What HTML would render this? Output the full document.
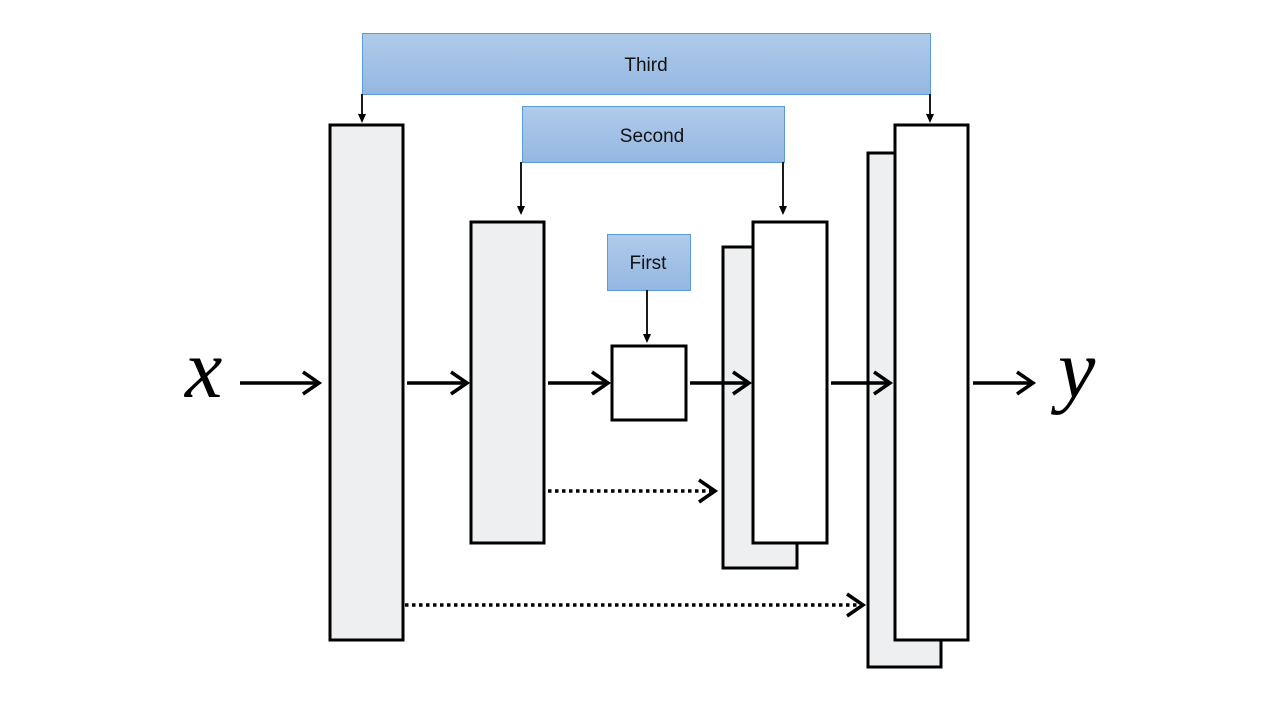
<!DOCTYPE html>
<html><head><meta charset="utf-8"><style>html,body{margin:0;padding:0;background:#fff;width:1280px;height:720px;overflow:hidden}</style></head>
<body>
<svg width="1280" height="720" viewBox="0 0 1280 720" xmlns="http://www.w3.org/2000/svg">
<defs>
<linearGradient id="g" x1="0" y1="0" x2="0" y2="1"><stop offset="0" stop-color="#b0cbea"/><stop offset="1" stop-color="#94b7e2"/></linearGradient>
<marker id="ah" markerWidth="8" markerHeight="8" refX="4" refY="7" orient="auto" markerUnits="userSpaceOnUse"><path d="M0,0 L4,8 L8,0 Z" fill="#000" transform="rotate(-90 4 4) translate(0,0)"/></marker>
</defs>
<g stroke="#000" stroke-width="3">
<rect x="330" y="125" width="73" height="515" fill="#eeeff0"/>
<rect x="471" y="222" width="73" height="321" fill="#eeeff0"/>
<rect x="612" y="346" width="74" height="74" fill="#fff"/>
<rect x="723" y="247" width="74" height="321" fill="#eeeff0"/>
<rect x="753" y="222" width="74" height="321" fill="#fff"/>
<rect x="868" y="153" width="73" height="514" fill="#eeeff0"/>
<rect x="895" y="125" width="73" height="515" fill="#fff"/>
</g>
<g stroke="#5b9bd5" stroke-width="1" fill="url(#g)">
<rect x="362.5" y="33.5" width="568" height="61"/>
<rect x="522.5" y="106.5" width="262" height="56"/>
<rect x="607.5" y="234.5" width="83" height="56"/>
</g>
<g font-family="'Liberation Sans',sans-serif" font-size="19" text-anchor="middle" fill="#111">
<text x="646" y="71">Third</text>
<text x="652" y="142">Second</text>
<text x="648" y="269">First</text>
</g>
<g stroke="#000" stroke-width="1.8">
<line x1="362" y1="94" x2="362" y2="116"/>
<line x1="930" y1="94" x2="930" y2="116"/>
<line x1="521" y1="162" x2="521" y2="208"/>
<line x1="783" y1="162" x2="783" y2="208"/>
<line x1="647" y1="290" x2="647" y2="336"/>
</g>
<g fill="#000">
<path d="M358,114 L366,114 L362,123 Z"/>
<path d="M926,114 L934,114 L930,123 Z"/>
<path d="M517,206 L525,206 L521,215 Z"/>
<path d="M779,206 L787,206 L783,215 Z"/>
<path d="M643,334 L651,334 L647,343 Z"/>
</g>
<g stroke="#000" stroke-width="3.5" fill="none">
<line x1="240" y1="383" x2="318" y2="383"/><path d="M303,372 L319,383 L303,394"/>
<line x1="407" y1="383" x2="466" y2="383"/><path d="M451,372 L467,383 L451,394"/>
<line x1="548" y1="383" x2="607" y2="383"/><path d="M592,372 L608,383 L592,394"/>
<line x1="690" y1="383" x2="748" y2="383"/><path d="M733,372 L749,383 L733,394"/>
<line x1="831" y1="383" x2="889" y2="383"/><path d="M874,372 L890,383 L874,394"/>
<line x1="973" y1="383" x2="1032" y2="383"/><path d="M1017,372 L1033,383 L1017,394"/>
<line x1="548" y1="491" x2="714" y2="491" stroke-dasharray="3.5 3.5"/><path d="M699,480 L715,491 L699,502"/>
<line x1="405" y1="605" x2="862" y2="605" stroke-dasharray="3.5 3.5"/><path d="M847,594 L863,605 L847,616"/>
</g>
<g font-family="'Liberation Serif',serif" font-style="italic" font-size="84" fill="#000">
<text x="185" y="397">x</text>
<text x="1058" y="397">y</text>
</g>
</svg>
</body></html>
